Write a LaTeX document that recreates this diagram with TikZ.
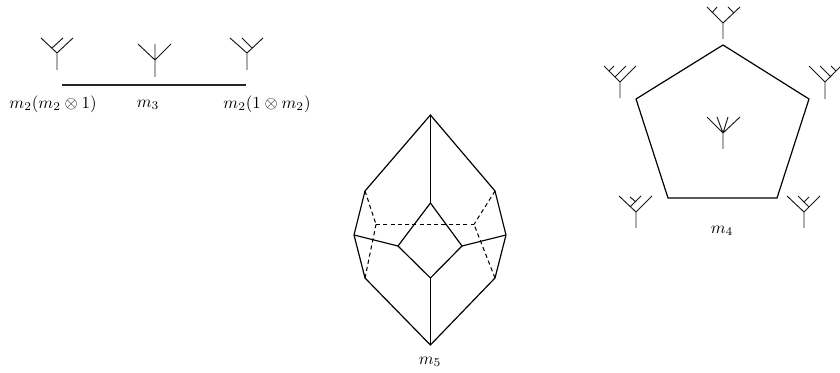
\documentclass[tikz,border=0pt]{standalone}
\usepackage{amsmath,amssymb}
\usepackage{xcolor}
\usepackage{tikz}

\tikzset{
    treeline/.style={line width=0.6pt,black!90},
    edgeline/.style={line width=0.75pt},
    hiddenline/.style={line width=0.65pt,dash pattern=on 2.6pt off 2pt}
}

\begin{document}
\begin{tikzpicture}[x=0.6325pt,y=-0.6325pt,every node/.style={scale=1.07}]

\useasboundingbox (0,0) rectangle (840,373);

% m3 interval
\coordinate (barl) at (62,85);
\coordinate (barr) at (246,85);
\draw[line width=1pt,black!85] (barl) -- (barr);

\node (lblleft) at (53,104) {$m_2(m_2\otimes 1)$};
\node (lblmid) at (148,105) {$m_3$};
\node (lblright) at (267,104) {$m_2(1\otimes m_2)$};

% trees over the interval
\draw[treeline] (57,70) -- (57,53) -- (41,38) (57,53) -- (73,38) (52,48) -- (63,38);
\draw[treeline] (155,77) -- (155,60) -- (138,44) (155,60) -- (171,44) (155,60) -- (155,44);
\draw[treeline] (247,70) -- (247,53) -- (230,38) (247,53) -- (263,38) (252,48) -- (242,38);

% pentagon
\coordinate (ptop) at (723,45);
\coordinate (pleft) at (636,99);
\coordinate (pright) at (809,99);
\coordinate (pbl) at (668,198);
\coordinate (pbr) at (777,198);
\draw[edgeline] (ptop) -- (pright) -- (pbr) -- (pbl) -- (pleft) -- cycle;

\node (lblfour) at (722,231) {$m_4$};

% trees round the pentagon
\draw[treeline] (723,39) -- (723,23) -- (707,7) (723,23) -- (740,7) (712,13) -- (717,7) (734,13) -- (728,7);
\draw[treeline] (620,98) -- (620,82) -- (604,66) (620,82) -- (636,66) (615,77) -- (626,66) (609,71) -- (614,66);
\draw[treeline] (825,99) -- (825,82) -- (809,66) (825,82) -- (841,66) (831,77) -- (820,66) (836,71) -- (831,66);
\draw[treeline] (636,228) -- (636,212) -- (619,196) (636,212) -- (652,196) (630,207) -- (641,196) (636,202) -- (630,197);
\draw[treeline] (804,228) -- (804,212) -- (787,196) (804,212) -- (820,196) (809,207) -- (798,196) (804,202) -- (809,197);
\draw[treeline] (723,149) -- (723,133) -- (707,117) (723,133) -- (740,117) (723,133) -- (717,117) (723,133) -- (728,117);

% m5 outer vertices
\coordinate (top) at (430.4,115);
\coordinate (ul) at (365,191);
\coordinate (ur) at (495,191);
\coordinate (ml) at (354,235);
\coordinate (mr) at (506,235);
\coordinate (ll) at (365,278);
\coordinate (lr) at (495,278);
\coordinate (bot) at (430.4,345);

% m5 square
\coordinate (st) at (430.4,203);
\coordinate (sl) at (398,246);
\coordinate (sr) at (462,246);
\coordinate (sb) at (430.4,278);

% m5 back vertices
\coordinate (bl) at (376,224.4);
\coordinate (br) at (474,224.4);

\draw[edgeline] (top) -- (ur) -- (mr) -- (lr) -- (bot) -- (ll) -- (ml) -- (ul) -- cycle;
\draw[edgeline] (st) -- (sr) -- (sb) -- (sl) -- cycle;
\draw[edgeline] (top) -- (st);
\draw[edgeline] (bot) -- (sb);
\draw[edgeline] (ml) -- (sl);
\draw[edgeline] (mr) -- (sr);

\draw[hiddenline] (bl) -- (br);
\draw[hiddenline] (ul) -- (bl);
\draw[hiddenline] (ur) -- (br);
\draw[hiddenline] (ll) -- (bl);
\draw[hiddenline] (lr) -- (br);

\node (lblfive) at (430,362) {$m_5$};

\end{tikzpicture}
\end{document}
